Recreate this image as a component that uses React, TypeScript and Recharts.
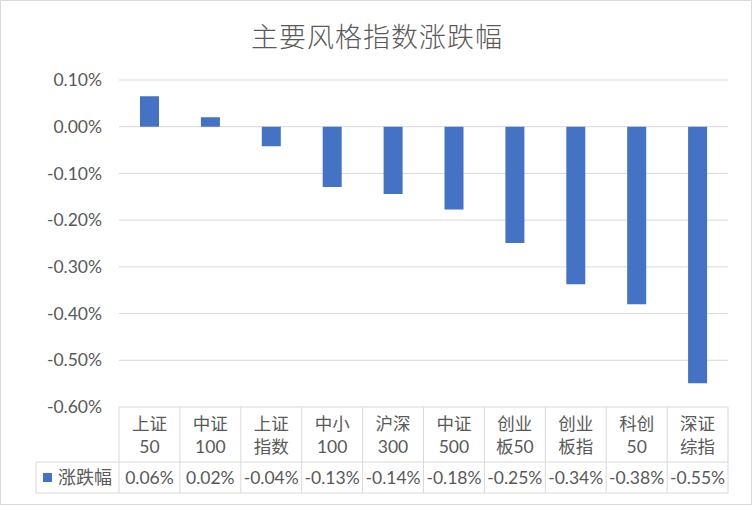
import React from "react";
import { BarChart, Bar, XAxis, YAxis, CartesianGrid } from "recharts";

const categoriesLine1 = ["上证", "中证", "上证", "中小", "沪深", "中证", "创业", "创业", "科创", "深证"];
const categoriesLine2 = ["50", "100", "指数", "100", "300", "500", "板50", "板指", "50", "综指"];
const values = [0.065, 0.02, -0.042, -0.129, -0.144, -0.177, -0.249, -0.337, -0.38, -0.549];
const tableLabels = ["0.06%", "0.02%", "-0.04%", "-0.13%", "-0.14%", "-0.18%", "-0.25%", "-0.34%", "-0.38%", "-0.55%"];
const yTicks = [0.1, 0, -0.1, -0.2, -0.3, -0.4, -0.5, -0.6];
const seriesName = "涨跌幅";
const title = "主要风格指数涨跌幅";

const data = categoriesLine1.map((c, i) => ({
  name: c + categoriesLine2[i],
  l1: c,
  l2: categoriesLine2[i],
  value: values[i],
  label: tableLabels[i],
}));

const W = 752;
const H = 505;
const M = { top: 80, right: 24, bottom: 12, left: 0 };
const YW = 119;
const XH = H - M.top - M.bottom - 327;
const plotW = W - M.left - M.right - YW;
const cellW = plotW / data.length;

const TEXT = "#595959";
const GRID = "#d9d9d9";
const BLUE = "#4472C4";
const FONT = "Lato, 'Noto Sans CJK SC', sans-serif";
const FS = 17.5;

const XTick = (props: any) => {
  const { x, y, index, payload } = props;
  const d = data[index] ?? data.find((e) => e.name === payload.value);
  const top = y - 8;
  const rowY = top + 55;
  const bottom = top + 86;
  const left = x - cellW / 2;
  const right = x + cellW / 2;
  return (
    <g>
      <line x1={left} y1={top} x2={left} y2={bottom} stroke={GRID} strokeWidth={1} />
      {index === data.length - 1 && (
        <line x1={right} y1={top} x2={right} y2={bottom} stroke={GRID} strokeWidth={1} />
      )}
      <line x1={left} y1={rowY} x2={right} y2={rowY} stroke={GRID} strokeWidth={1} />
      <line x1={left} y1={bottom} x2={right} y2={bottom} stroke={GRID} strokeWidth={1} />
      <text x={x} y={top + 16} textAnchor="middle" dominantBaseline="central" fill={TEXT} fontSize={FS} fontFamily={FONT}>
        {d.l1}
      </text>
      <text x={x} y={top + 39} textAnchor="middle" dominantBaseline="central" fill={TEXT} fontSize={FS} fontFamily={FONT}>
        {d.l2}
      </text>
      <text x={x} y={top + 70} textAnchor="middle" dominantBaseline="central" fill={TEXT} fontSize={FS} fontFamily={FONT}>
        {d.label}
      </text>
      {index === 0 && (
        <g>
          <line x1={36} y1={rowY} x2={left} y2={rowY} stroke={GRID} strokeWidth={1} />
          <line x1={36} y1={bottom} x2={left} y2={bottom} stroke={GRID} strokeWidth={1} />
          <line x1={36} y1={rowY} x2={36} y2={bottom} stroke={GRID} strokeWidth={1} />
          <rect x={43} y={top + 66} width={9} height={9} fill={BLUE} />
          <text x={58} y={top + 70} textAnchor="start" dominantBaseline="central" fill={TEXT} fontSize={18} fontFamily={FONT}>
            {seriesName}
          </text>
        </g>
      )}
    </g>
  );
};

export default function App() {
  return (
    <div
      style={{
        position: "absolute",
        left: 0,
        top: 0,
        width: W,
        height: H,
        boxSizing: "border-box",
        border: "1px solid #d9d9d9",
        background: "#fff",
      }}
    >
      <div
        style={{
          position: "absolute",
          left: 0,
          top: 0,
          width: W,
          textAlign: "center",
          marginTop: 17,
          fontSize: 27,
          lineHeight: "36px",
          color: TEXT,
          fontFamily: "'Noto Sans CJK SC', sans-serif",
          fontWeight: 300,
          letterSpacing: 1,
        }}
      >
        {title}
      </div>
      <div style={{ position: "absolute", left: -1, top: -1 }}>
        <BarChart width={W} height={H} data={data} margin={M} barSize={19}>
          <CartesianGrid horizontal vertical={false} stroke={GRID} strokeWidth={1} />
          <XAxis
            dataKey="name"
            orientation="bottom"
            height={XH}
            axisLine={false}
            tickLine={false}
            interval={0}
            tick={<XTick />}
          />
          <YAxis
            width={YW}
            domain={[-0.6, 0.1]}
            ticks={yTicks}
            axisLine={false}
            tickLine={false}
            tickMargin={11}
            tickFormatter={(v: number) => `${v.toFixed(2)}%`}
            tick={{ fill: TEXT, fontSize: FS, fontFamily: FONT }}
            allowDataOverflow
          />
          <Bar dataKey="value" fill={BLUE} isAnimationActive={false} />
        </BarChart>
      </div>
    </div>
  );
}
